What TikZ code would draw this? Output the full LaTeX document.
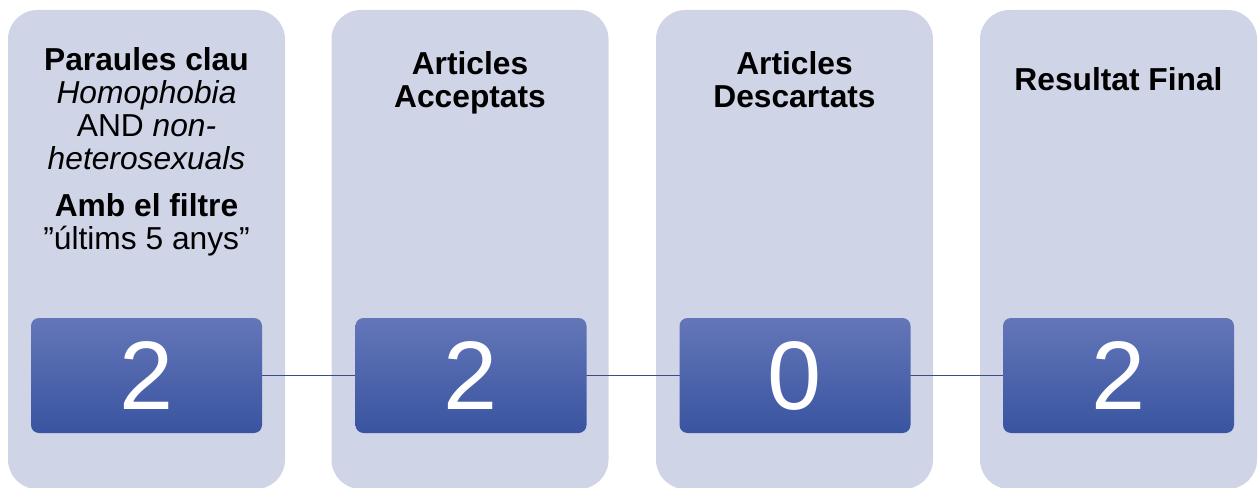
\documentclass[tikz,border=0pt]{standalone}
\usepackage{fontspec}
\setmainfont{Liberation Sans}
\usepackage{tikz}
\usetikzlibrary{positioning}
\definecolor{panelgrey}{RGB}{207,212,230}
\definecolor{boxtop}{RGB}{100,118,184}
\definecolor{boxmid}{RGB}{71,99,176}
\definecolor{boxbot}{RGB}{57,84,160}
\definecolor{linkblue}{RGB}{60,76,132}
\tikzset{panel/.style = {fill=panelgrey, rounded corners=22pt, minimum width=207.75pt, minimum height=359.25pt, inner sep=0pt},
         countbox/.style = {top color=boxtop, middle color=boxmid, bottom color=boxbot, rounded corners=6pt, minimum width=173.25pt, minimum height=86.25pt, inner sep=0pt, text=white, font=\fontsize{73}{73}\selectfont},
         head/.style = {anchor=north, align=center, inner sep=0pt, font=\fontsize{23.8}{24.75}\selectfont},
         link/.style = {draw=linkblue, line width=0.8pt}}

\begin{document}
\begin{tikzpicture}[x=0.75pt, y=-0.75pt]
        \useasboundingbox (0,0) rectangle (1259,488);
        \node[panel] (P1) at (146.5,249.5) {};
        \node[panel] (P2) at (470,249.5) {};
        \node[panel] (P3) at (794.5,249.5) {};
        \node[panel] (P4) at (1118.5,249.5) {};
        \draw[link] (146.5,375.5) -- (1118.5,375.5);
        \node[countbox] (N1) at (146.5,375.5) {2};
        \node[countbox] (N2) at (471,375.5) {2};
        \node[countbox] (N3) at (795,375.5) {0};
        \node[countbox] (N4) at (1118.5,375.5) {2};
        \node[head] (H1) at (146.5,47.5) {\textbf{Paraules clau}\\ \textit{Homophobia}\\ AND \textit{non-}\\ \textit{heterosexuals}\\[10.5pt] \textbf{Amb el filtre}\\ ”últims 5 anys”};
        \node[head] (H2) at (470,51) {\textbf{Articles}\\ \textbf{Acceptats}};
        \node[head] (H3) at (794.5,51) {\textbf{Articles}\\ \textbf{Descartats}};
        \node[head] (H4) at (1118.5,67) {\textbf{Resultat Final}};
    \end{tikzpicture}
\end{document}
